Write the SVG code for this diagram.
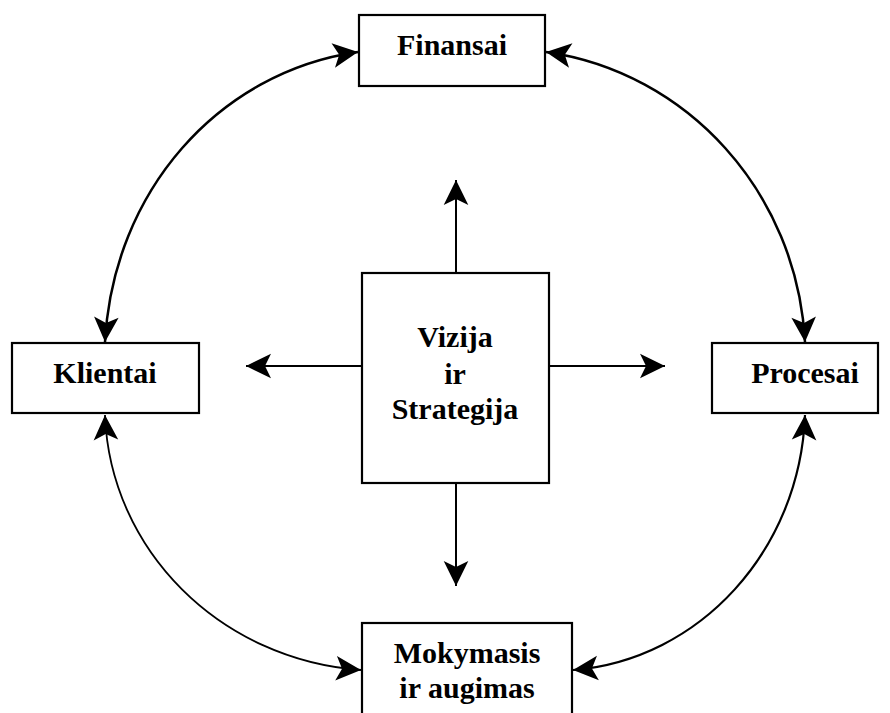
<svg xmlns="http://www.w3.org/2000/svg" width="890" height="713" viewBox="0 0 890 713">
  <defs>
    <!-- concave "stealth" arrowhead, tip at the path end -->
    <marker id="head" viewBox="-26 -13 27 26" refX="0" refY="0" markerWidth="27" markerHeight="26" markerUnits="userSpaceOnUse" orient="auto-start-reverse">
      <path d="M0,0 L-25,-12.3 L-19,0 L-25,12.3 Z" fill="#000"/>
    </marker>
    <style>
      .box { fill: #fff; stroke: #000; stroke-width: 2.2; }
      .lbl { font-family: "Liberation Serif", "Times New Roman", serif; font-weight: bold; font-size: 30px; fill: #000; text-anchor: middle; }
      .link { fill: none; stroke: #000; }
    </style>
  </defs>
  <rect width="890" height="713" fill="#fff"/>

  <g id="connectors">
    <!-- central hub arrows -->
    <path class="link" stroke-width="2" d="M456,273 V180" marker-end="url(#head)"/>
    <path class="link" stroke-width="2" d="M456,483 V586" marker-end="url(#head)"/>
    <path class="link" stroke-width="2" d="M361,366 H246" marker-end="url(#head)"/>
    <path class="link" stroke-width="2" d="M549,366 H665" marker-end="url(#head)"/>
    <!-- outer ring, double-headed -->
    <path class="link" stroke-width="2.5" d="M105,342 C113,192 218,72 358,52" marker-start="url(#head)" marker-end="url(#head)"/>
    <path class="link" stroke-width="2.5" d="M546,52 C687,72 797,192 805,342" marker-start="url(#head)" marker-end="url(#head)"/>
    <path class="link" stroke-width="1.8" d="M105,415 C110,550 220,660 361,670" marker-start="url(#head)" marker-end="url(#head)"/>
    <path class="link" stroke-width="2.2" d="M805,415 C800,550 700,660 573,670" marker-start="url(#head)" marker-end="url(#head)"/>
  </g>

  <g id="finansai">
    <rect class="box" x="359" y="15" width="186" height="71"/>
    <text class="lbl" x="452" y="55">Finansai</text>
  </g>

  <g id="klientai">
    <rect class="box" x="12" y="343" width="187" height="70"/>
    <text class="lbl" x="105" y="383">Klientai</text>
  </g>

  <g id="procesai">
    <rect class="box" x="712" y="343" width="166" height="70"/>
    <text class="lbl" x="805" y="383">Procesai</text>
  </g>

  <g id="vizija">
    <rect class="box" x="362" y="273" width="187" height="210"/>
    <text class="lbl" x="455" y="347">Vizija</text>
    <text class="lbl" x="455" y="384">ir</text>
    <text class="lbl" x="455" y="419">Strategija</text>
  </g>

  <g id="mokymasis">
    <rect class="box" x="362" y="623" width="210" height="100"/>
    <text class="lbl" x="467" y="663">Mokymasis</text>
    <text class="lbl" x="467" y="698">ir augimas</text>
  </g>
</svg>
